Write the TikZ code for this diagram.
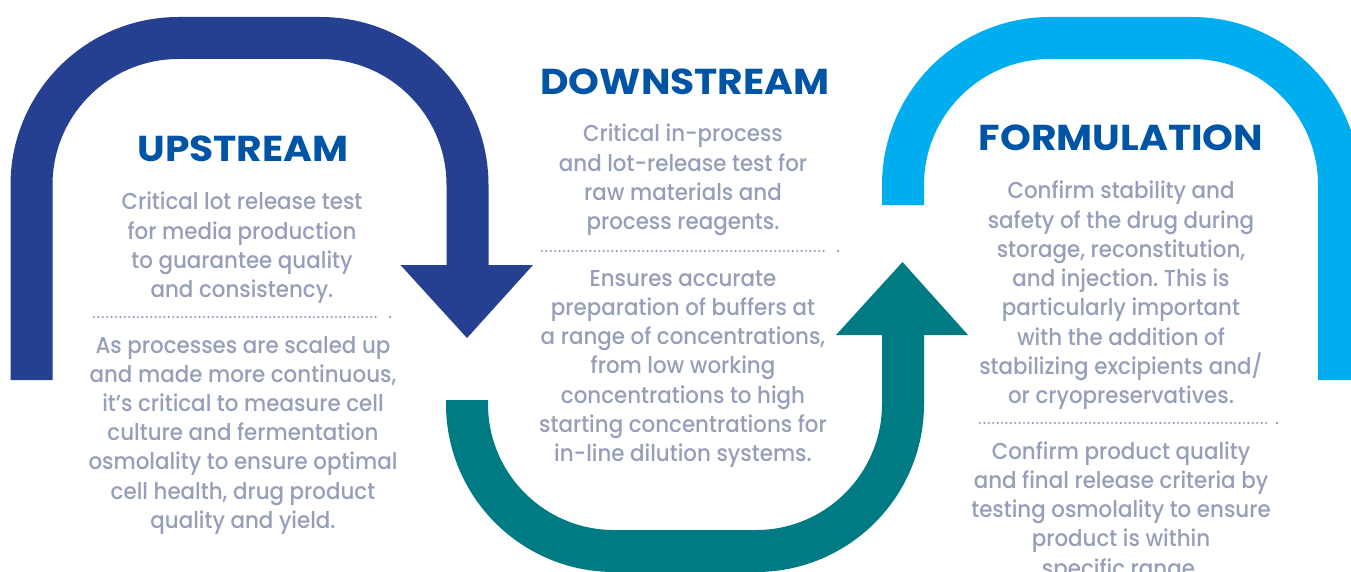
\documentclass[tikz,border=0pt]{standalone}
\usepackage{fontspec}
\setmainfont{Poppins}[UprightFont=*-Medium, FakeStretch=0.93]
\newfontfamily\headfont{Poppins}[FakeStretch=1.09]
\frenchspacing
\definecolor{upblue}{RGB}{37,63,145}
\definecolor{dsteal}{RGB}{0,123,132}
\definecolor{formblue}{RGB}{0,174,239}
\definecolor{headblue}{RGB}{0,84,166}
\definecolor{bodygray}{RGB}{150,159,185}
\tikzset{
  band/.style={line width=42pt, rounded corners=147pt},
  head/.style={font=\fontsize{36}{40}\headfont\bfseries, text=headblue, anchor=base, inner sep=0pt},
  body/.style={font=\fontsize{23}{29}\selectfont\frenchspacing, text=bodygray, anchor=base, inner sep=0pt},
  sepline/.style={draw=bodygray, line width=2.4pt, dash pattern=on 0pt off 4.4pt, line cap=round},
  sepdot/.style={fill=bodygray, circle, inner sep=0pt, minimum size=2.6pt}
}
\begin{document}
\begin{tikzpicture}[x=1pt,y=-1pt]
\useasboundingbox (0,0) rectangle (1351,572);
\clip (0,0) rectangle (1351,572);
% bands
\draw[band, upblue] (31.5,380) -- (31.5,38) -- (467.5,38) -- (467.5,266);
\fill[upblue] (400.5,265) -- (533,265) -- (467,338) -- cycle;
\draw[band, dsteal] (467,400) -- (467,551) -- (903,551) -- (903,334);
\fill[dsteal] (836,335) -- (968,335) -- (902.5,262) -- cycle;
\draw[band, formblue] (903,205) -- (903,38) -- (1339,38) -- (1339,380);
% headings
\node[head] (uph) at (243,162) {UPSTREAM};
\node[head] (dnh) at (685,95) {DOWNSTREAM};
\node[head] (fmh) at (1121,151) {FORMULATION};
% upstream text
\foreach \t [count=\i from 0] in {Critical lot release test, for media production, to guarantee quality, and consistency.}
  \node[body] (ua\i) at (242,210+29.2*\i) {\t};
\coordinate (usa) at (94,317); \coordinate (usb) at (379,317);
\draw[sepline] (usa) -- (usb);
\node[sepdot] (usd) at (390,317) {};
\foreach \t [count=\i from 0] in {As processes are scaled up, and made more continuous{,}, it’s critical to measure cell, culture and fermentation, osmolality to ensure optimal, {cell health, drug product}, quality and yield.}
  \node[body] (ub\i) at (243,353+29.2*\i) {\t};
% downstream text
\foreach \t [count=\i from 0] in {Critical in-process, and lot-release test for, raw materials and, process reagents.}
  \node[body] (da\i) at (683,142+29.2*\i) {\t};
\coordinate (dsa) at (542,251); \coordinate (dsb) at (827,251);
\draw[sepline] (dsa) -- (dsb);
\node[sepdot] (dsd) at (838,251) {};
\foreach \t [count=\i from 0] in {Ensures accurate, preparation of buffers at, a range of concentrations{,}, from low working, concentrations to high, starting concentrations for, in-line dilution systems.}
  \node[body] (db\i) at (683,286+29.3*\i) {\t};
% formulation text
\foreach \t [count=\i from 0] in {Confirm stability and, safety of the drug during, {storage, reconstitution,}, and injection. This is, particularly important, with the addition of, stabilizing excipients and/, or cryopreservatives.}
  \node[body] (fa\i) at (1121,199+29.2*\i) {\t};
\coordinate (fsa) at (980,423); \coordinate (fsb) at (1266,423);
\draw[sepline] (fsa) -- (fsb);
\node[sepdot] (fsd) at (1277,423) {};
\foreach \t [count=\i from 0] in {Confirm product quality, and final release criteria by, testing osmolality to ensure, product is within, specific range.}
  \node[body] (fb\i) at (1121,459+29.3*\i) {\t};
\end{tikzpicture}
\end{document}
